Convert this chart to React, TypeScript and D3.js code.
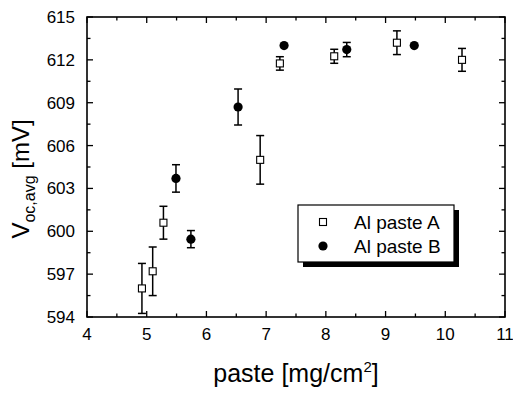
import * as d3 from 'd3';

// Al paste A (open squares)
const pasteA = [4.92, 5.1, 5.28, 6.9, 7.23, 8.14, 9.19, 10.28];
const vocA = [596.0, 597.2, 600.6, 605.0, 611.75, 612.25, 613.2, 612.0];
const errA = [1.75, 1.7, 1.15, 1.7, 0.47, 0.49, 0.83, 0.8];

// Al paste B (filled circles)
const pasteB = [5.49, 5.74, 6.53, 7.3, 8.35, 9.48];
const vocB = [603.7, 599.45, 608.7, 613.0, 612.72, 613.0];
const errB = [0.96, 0.6, 1.26, 0, 0.5, 0];

const xTicks = [4, 5, 6, 7, 8, 9, 10, 11];
const yTicks = [594, 597, 600, 603, 606, 609, 612, 615];

const W = 513;
const H = 394;
const m = { left: 87, right: 8, top: 17, bottom: 77 };

export default function App() {
  const x = d3.scaleLinear().domain([4, 11]).range([m.left, W - m.right]);
  const y = d3.scaleLinear().domain([594, 615]).range([H - m.bottom, m.top]);
  const [x0, x1] = x.range();
  const [y0, y1] = y.range();

  const xMinor = d3.range(4.5, 11, 1);
  const yMinor = d3.range(595.5, 615, 3);
  const font = 'Liberation Sans, Arial, sans-serif';

  const errBar = (cx: number, v: number, e: number, k: string) => {
    if (!e) return null;
    const top = y(v + e);
    const bot = y(v - e);
    return (
      <g key={k} stroke="#000" strokeWidth={1.5}>
        <line x1={cx} x2={cx} y1={top} y2={bot} />
        <line x1={cx - 4} x2={cx + 4} y1={top} y2={top} />
        <line x1={cx - 4} x2={cx + 4} y1={bot} y2={bot} />
      </g>
    );
  };

  return (
    <svg width={W} height={H} style={{ position: 'absolute', left: 0, top: 0, background: '#fff' }}>
      <rect width={W} height={H} fill="#fff" />
      {/* ticks, inward on all four sides */}
      <g stroke="#000" strokeWidth={1.3}>
        {xTicks.map(t => (
          <g key={'xt' + t}>
            <line x1={x(t)} x2={x(t)} y1={y0} y2={y0 - 6} />
            <line x1={x(t)} x2={x(t)} y1={y1} y2={y1 + 6} />
          </g>
        ))}
        {xMinor.map(t => (
          <g key={'xm' + t}>
            <line x1={x(t)} x2={x(t)} y1={y0} y2={y0 - 3.5} />
            <line x1={x(t)} x2={x(t)} y1={y1} y2={y1 + 3.5} />
          </g>
        ))}
        {yTicks.map(t => (
          <g key={'yt' + t}>
            <line x1={x0} x2={x0 + 6} y1={y(t)} y2={y(t)} />
            <line x1={x1} x2={x1 - 6} y1={y(t)} y2={y(t)} />
          </g>
        ))}
        {yMinor.map(t => (
          <g key={'ym' + t}>
            <line x1={x0} x2={x0 + 3.5} y1={y(t)} y2={y(t)} />
            <line x1={x1} x2={x1 - 3.5} y1={y(t)} y2={y(t)} />
          </g>
        ))}
      </g>
      <rect x={x0} y={y1} width={x1 - x0} height={y0 - y1} fill="none" stroke="#000" strokeWidth={1.6} />

      {/* tick labels */}
      <g fontFamily={font} fontSize={17} fill="#000">
        {xTicks.map(t => (
          <text key={'xl' + t} x={x(t)} y={y0 + 23} textAnchor="middle">{t}</text>
        ))}
        {yTicks.map(t => (
          <text key={'yl' + t} x={x0 - 12} y={y(t) + 6} textAnchor="end">{t}</text>
        ))}
      </g>

      {/* axis titles */}
      <text x={(x0 + x1) / 2} y={382} textAnchor="middle" fontFamily={font} fontSize={25}>
        paste [mg/cm<tspan dy={-10} fontSize={15}>2</tspan><tspan dy={10}>]</tspan>
      </text>
      <text transform={`translate(29, 179) rotate(-90)`} textAnchor="middle" fontFamily={font} fontSize={24}>
        V<tspan dy={6} fontSize={16}>oc,avg</tspan><tspan dy={-6}> [mV]</tspan>
      </text>

      {/* series A */}
      {pasteA.map((p, i) => errBar(x(p), vocA[i], errA[i], 'ea' + i))}
      {pasteA.map((p, i) => (
        <rect key={'a' + i} x={x(p) - 3.5} y={y(vocA[i]) - 3.5} width={7} height={7} fill="#fff" stroke="#000" strokeWidth={1.1} />
      ))}

      {/* series B */}
      {pasteB.map((p, i) => errBar(x(p), vocB[i], errB[i], 'eb' + i))}
      {pasteB.map((p, i) => (
        <circle key={'b' + i} cx={x(p)} cy={y(vocB[i])} r={4.6} fill="#000" />
      ))}

      {/* legend */}
      <g>
        <rect x={303} y={210} width={156} height={57} fill="#000" />
        <rect x={298} y={205} width={156} height={57} fill="#fff" stroke="#000" strokeWidth={1.2} />
        <rect x={319.5} y={218.5} width={7} height={7} fill="#fff" stroke="#000" strokeWidth={1.1} />
        <circle cx={323} cy={246} r={4.6} fill="#000" />
        <text x={354} y={229} fontFamily={font} fontSize={19}>Al paste A</text>
        <text x={354} y={253} fontFamily={font} fontSize={19}>Al paste B</text>
      </g>
    </svg>
  );
}
